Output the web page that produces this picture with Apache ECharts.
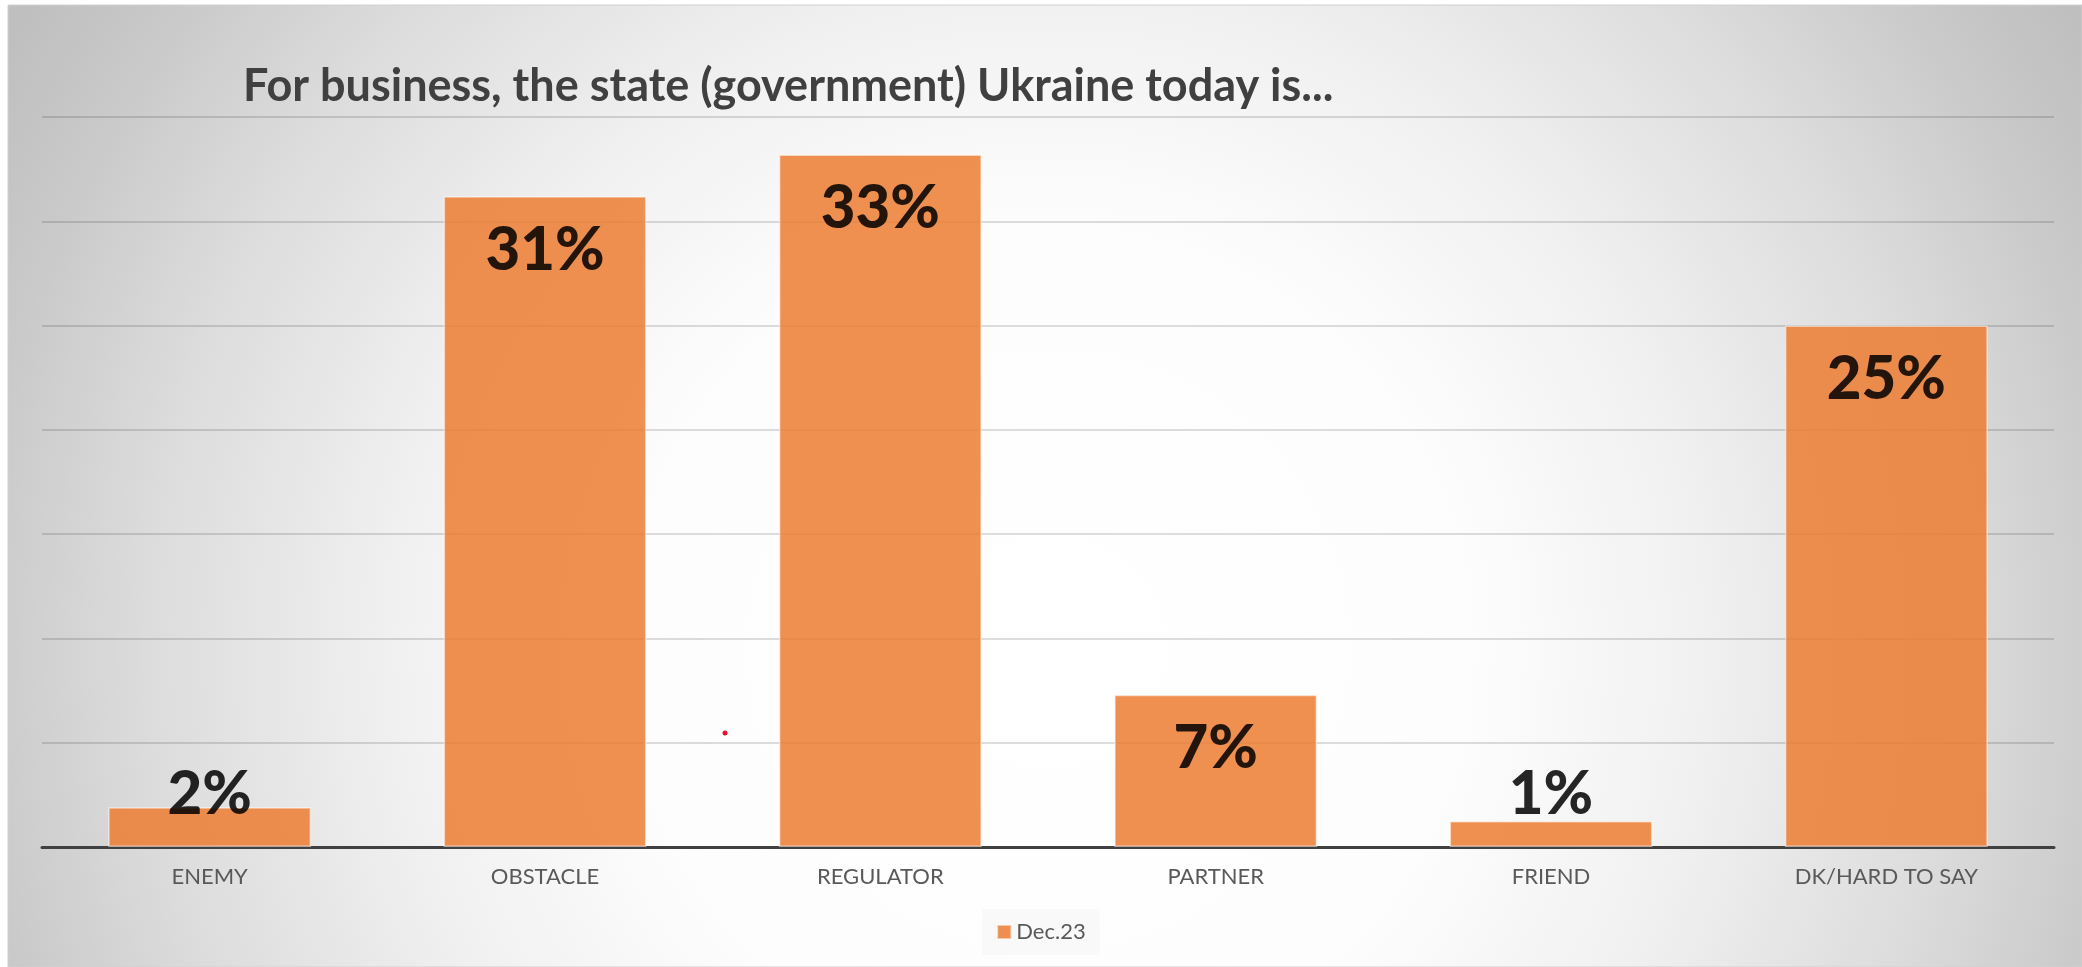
<!DOCTYPE html>
<html>
<head>
<meta charset="utf-8">
<title>For business, the state (government) Ukraine today is...</title>
<script src="https://cdn.jsdelivr.net/npm/echarts@6/dist/echarts.min.js"></script>
<style>
  html, body { margin: 0; padding: 0; background: #ffffff; }
  #chart { width: 2082px; height: 967px; }
</style>
</head>
<body>
<div id="chart"></div>
<script>
// Données
const categories = ["ENEMY", "OBSTACLE", "REGULATOR", "PARTNER", "FRIEND", "DK/HARD TO SAY"];
const nomSerie = "Dec.23";
const valeursDec23 = [1.9, 31.2, 33.2, 7.3, 1.25, 25.0];
const titre = "For business, the state (government) Ukraine today is...";

const FONT = "Lato, 'Open Sans', sans-serif";

/**
 * Construit les points de la série : les petites barres gardent
 * leur étiquette au-dessus de l'axe (comme Excel)
 */
function pointsSerie(valeurs) {
  return valeurs.map((v) => {
    if (v < 5) {
      return { value: v, label: { position: "insideBottom", distance: 22 } };
    }
    return { value: v };
  });
}

function settingsGraph() {
  return {
    animation: false,
    textStyle: { fontFamily: FONT },
    title: {
      text: titre,
      left: 243,
      top: 64,
      padding: 0,
      textStyle: {
        fontFamily: FONT,
        fontSize: 45,
        fontWeight: "bold",
        color: "#404040",
      },
    },
    legend: {
      data: [nomSerie],
      left: "center",
      top: 909,
      padding: [12, 14],
      itemWidth: 14,
      itemHeight: 14,
      icon: "rect",
      backgroundColor: "rgba(240,240,240,0.35)",
      textStyle: { fontFamily: FONT, fontSize: 22, color: "#595959" },
    },
    grid: { left: 42, right: 28, top: 117, bottom: 120 },
    xAxis: {
      type: "category",
      data: categories,
      axisLine: { lineStyle: { color: "#404040", width: 3 } },
      axisTick: { show: false },
      axisLabel: {
        margin: 19,
        fontFamily: FONT,
        fontSize: 22,
        color: "#595959",
      },
    },
    yAxis: {
      type: "value",
      min: 0,
      max: 35,
      interval: 5,
      axisLabel: { show: false },
      axisLine: { show: false },
      axisTick: { show: false },
      splitLine: { lineStyle: { color: "rgba(0,0,0,0.18)", width: 1.5 } },
    },
    series: [
      {
        name: nomSerie,
        type: "bar",
        barCategoryGap: "39.5%",
        itemStyle: {
          color: "#ED7D31",
          opacity: 0.85,
          borderColor: "rgba(255,255,255,0.6)",
          borderWidth: 1.5,
        },
        label: {
          show: true,
          position: "insideTop",
          distance: 24,
          formatter: (p) => Math.round(p.value) + "%",
          fontFamily: FONT,
          fontSize: 60,
          fontWeight: 900,
          color: "#000000",
        },
        data: pointsSerie(valeursDec23),
      },
    ],
    graphic: [
      {
        // fond du graphique en dégradé radial
        type: "rect",
        z: -100,
        silent: true,
        shape: { x: 8, y: 5, width: 2074, height: 962 },
        style: {
          fill: new echarts.graphic.RadialGradient(0.502, 0.67, 1.25, [
            { offset: 0, color: "#ffffff" },
            { offset: 0.35, color: "#fdfdfd" },
            { offset: 0.55, color: "#f0f0f0" },
            { offset: 0.75, color: "#dcdcdc" },
            { offset: 0.9, color: "#c9c9c9" },
            { offset: 1, color: "#bfbfbf" },
          ]),
          stroke: "#d0d0d0",
          lineWidth: 1,
        },
      },
      {
        // petit point rouge présent sur l'original
        type: "circle",
        z: 100,
        silent: true,
        shape: { cx: 725, cy: 733, r: 2.5 },
        style: { fill: "#e8112d" },
      },
    ],
  };
}

const dom = document.getElementById("chart");
const myChart = echarts.init(dom);
myChart.setOption(settingsGraph());
</script>
</body>
</html>
